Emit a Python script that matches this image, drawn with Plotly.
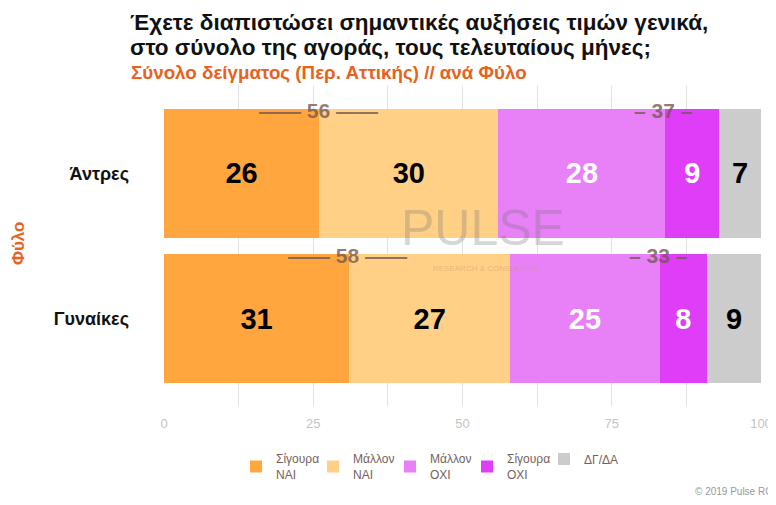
import plotly.graph_objects as go

groups = ["Άντρες", "Γυναίκες"]
answers = ["Σίγουρα<br>ΝΑΙ", "Μάλλον<br>ΝΑΙ", "Μάλλον<br>ΟΧΙ", "Σίγουρα<br>ΟΧΙ", "ΔΓ/ΔΑ"]
colors = ["#FFA73E", "#FFD086", "#E880F8", "#DF3DF7", "#CCCCCC"]
label_colors = ["black", "black", "white", "white", "black"]

values = {
    "Άντρες": [26, 30, 28, 9, 7],
    "Γυναίκες": [31, 27, 25, 8, 9],
}

# net totals (yes / no) and where they sit along the bar
net_yes = [56, 58]
net_no = [37, 33]
net_yes_x = [25.8, 30.8]
net_no_x = [83.6, 82.8]

title_lines = ["Έχετε διαπιστώσει σημαντικές αυξήσεις τιμών γενικά,",
               "στο σύνολο της αγοράς, τους τελευταίους μήνες;"]
subtitle = "Σύνολο δείγματος (Περ. Αττικής) // ανά Φύλο"

# page body has an 8px margin, so the figure is drawn 8px in from the corner
OFF = 8
L, T, W, H = 164 - OFF, 86 - OFF, 597, 320
FW, FH = 776 - OFF, 505 - 2 * OFF


def px(x):
    return (x - OFF - L) / W


def py(y):
    return 1 - (y - OFF - T) / H


fig = go.Figure()
for i, ans in enumerate(answers):
    vals = [values[g][i] for g in groups]
    fig.add_trace(go.Bar(
        y=groups, x=vals, orientation="h", name=ans,
        marker=dict(color=colors[i], line=dict(width=0)),
        text=[str(v) for v in vals], textposition="inside",
        insidetextanchor="middle", constraintext="none",
        textfont=dict(family="Liberation Sans", size=29, color=label_colors[i], weight="bold"),
        hoverinfo="skip",
    ))

net_font = dict(family="Liberation Sans", size=21, color="rgba(115,88,82,0.8)", weight="bold")
annotations = []
for j, g in enumerate(groups):
    annotations.append(dict(x=net_yes_x[j], y=g, xref="x", yref="y", yshift=63, showarrow=False,
                            text="—— %d ——" % net_yes[j], font=net_font))
    annotations.append(dict(x=net_no_x[j], y=g, xref="x", yref="y", yshift=63, showarrow=False,
                            text="– %d –" % net_no[j], font=net_font))

title_font = dict(family="Liberation Sans", size=22.5, color="#111111", weight="bold")
annotations.append(dict(x=px(128), y=py(22), xref="paper", yref="paper", showarrow=False,
                        xanchor="left", yanchor="middle", text=title_lines[0], font=title_font))
annotations.append(dict(x=px(128), y=py(47), xref="paper", yref="paper", showarrow=False,
                        xanchor="left", yanchor="middle", text=title_lines[1], font=title_font))
annotations.append(dict(x=px(129), y=py(72), xref="paper", yref="paper", showarrow=False,
                        xanchor="left", yanchor="middle", text=subtitle,
                        font=dict(family="Liberation Sans", size=18.8, color="#E8621D", weight="bold")))
annotations.append(dict(x=px(18), y=py(244), xref="paper", yref="paper", showarrow=False,
                        xanchor="center", yanchor="middle", textangle=-90, text="Φύλο",
                        font=dict(family="Liberation Sans", size=17, color="#E8621D", weight="bold")))

# watermark
annotations.append(dict(x=px(483), y=py(228), xref="paper", yref="paper", showarrow=False,
                        xanchor="center", yanchor="middle",
                        text="PULSE", font=dict(family="Liberation Sans", size=50,
                                                color="rgba(120,120,120,0.3)")))
annotations.append(dict(x=px(486), y=py(268), xref="paper", yref="paper", showarrow=False,
                        xanchor="center", yanchor="middle", text="RESEARCH & CONSULTING",
                        font=dict(family="Liberation Sans", size=8, color="rgba(200,150,100,0.45)")))
annotations.append(dict(x=px(693), y=py(491), xref="paper", yref="paper", showarrow=False,
                        xanchor="left", yanchor="middle", text="© 2019 Pulse RC",
                        font=dict(family="Liberation Sans", size=10, color="#999999")))

fig.update_layout(
    width=FW, height=FH,
    margin=dict(l=L, r=FW - L - W, t=T, b=FH - T - H, autoexpand=False),
    paper_bgcolor="white", plot_bgcolor="white",
    barmode="stack", bargap=0.11,
    showlegend=True,
    legend=dict(orientation="h", x=px(236), xanchor="left", y=py(467), yanchor="middle",
                font=dict(family="Liberation Sans", size=12, color="#74625d"),
                entrywidth=32, traceorder="normal"),
    xaxis=dict(range=[0, 100], dtick=25, showgrid=True, gridcolor="#e2e2e2", zeroline=False,
               minor=dict(dtick=12.5, showgrid=True, gridcolor="#e2e2e2"),
               tickfont=dict(family="Liberation Sans", size=13, color="#c4c4c4"),
               ticklabelstandoff=8, ticklabeloverflow="allow",
               automargin=False, fixedrange=True),
    yaxis=dict(categoryorder="array", categoryarray=groups[::-1], range=[-0.6, 1.6],
               tickfont=dict(family="Liberation Sans", size=18, color="#111111", weight="bold"),
               ticklabelstandoff=34, showgrid=False, zeroline=False, automargin=False),
    annotations=annotations,
)

fig.write_html("out.html")
